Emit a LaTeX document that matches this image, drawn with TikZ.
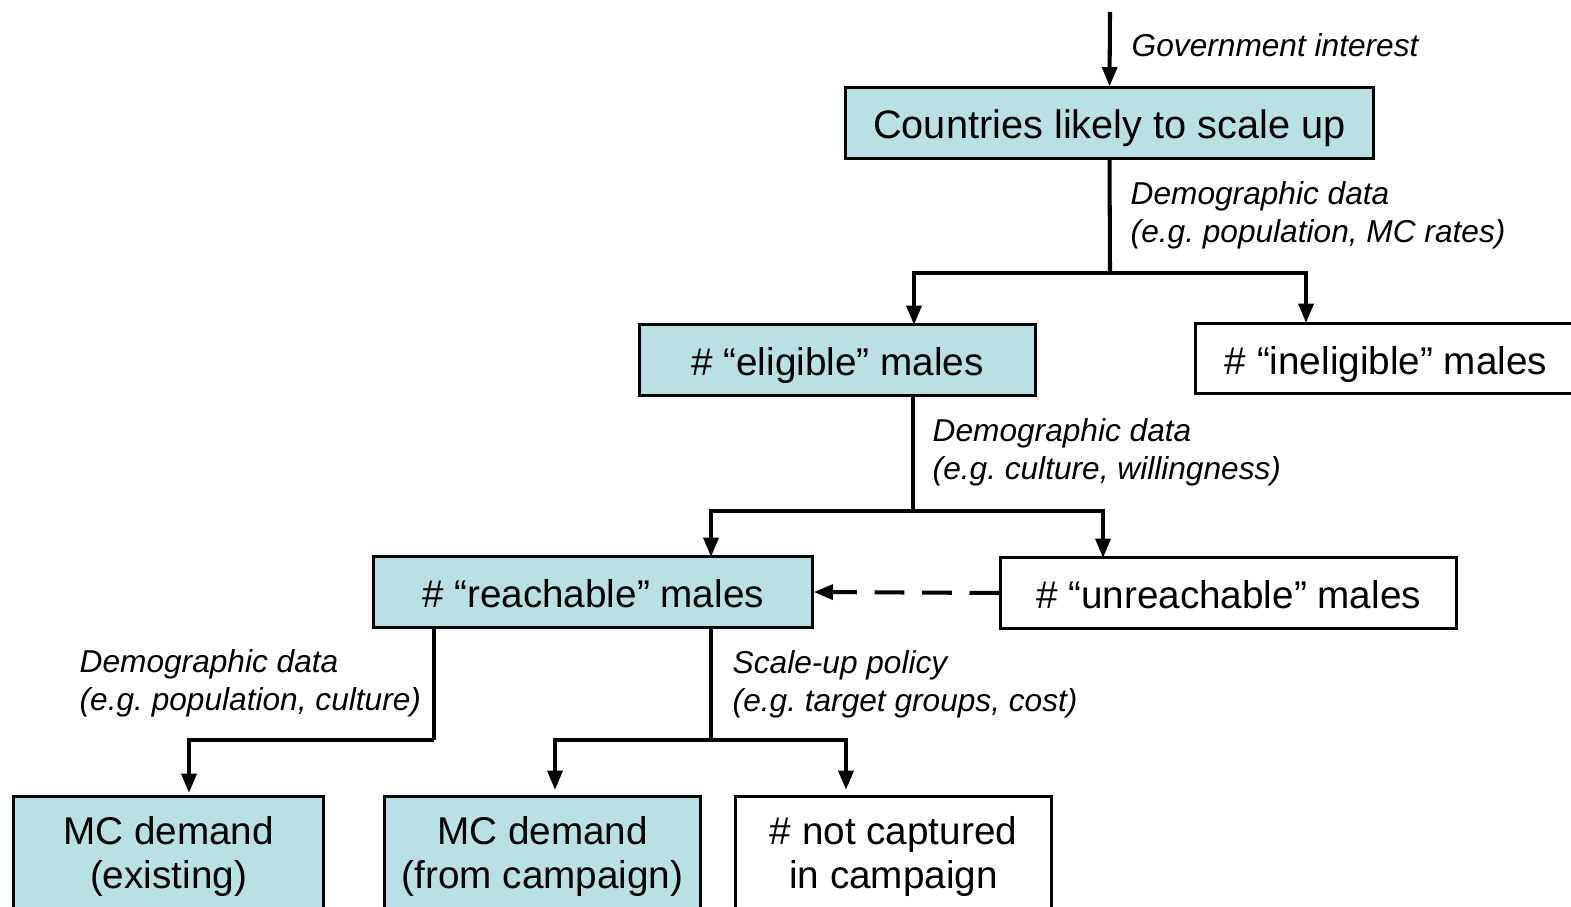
\documentclass[tikz,border=0pt]{standalone}
\usepackage{fontspec}
\setmainfont{Liberation Sans}
\usetikzlibrary{arrows.meta}
\definecolor{boxcyan}{RGB}{185,224,227}
\frenchspacing
\tikzset{
	box/.style={draw=black,line width=0.85pt,minimum height=0.70cm,inner sep=0pt,align=center,font=\fontsize{11}{12.5}\selectfont},
	oneline/.style={text height=10pt,text depth=1pt},
	shaded/.style={box,fill=boxcyan},
	plain/.style={box,fill=white},
	lab/.style={anchor=west,inner sep=0pt,align=left,font=\fontsize{9}{10.8}\selectfont\itshape},
	link/.style={line width=1.15pt},
	arr/.style={link,-{Triangle[length=5.5pt,width=4.2pt]}},
}
\begin{document}
\begin{tikzpicture}[x=0.01cm,y=-0.01cm]
		\useasboundingbox (0,0) rectangle (1571,907);
		\clip (0,0) rectangle (1571,907);
		% boxes
		\node[shaded,oneline,minimum width=5.27cm,font=\fontsize{11.3}{12.5}\selectfont] (cnt) at (1109.5,123) {Countries likely to scale up};
		\node[shaded,oneline,minimum width=3.95cm] (elig) at (837.5,360) {\# “eligible” males};
		\node[plain,oneline,minimum width=3.80cm] (inel) at (1386,358.5) {\# “ineligible” males};
		\node[shaded,oneline,minimum width=4.38cm] (reach) at (593,592) {\# “reachable” males};
		\node[plain,oneline,minimum width=4.55cm] (unr) at (1228.5,593) {\# “unreachable” males};
		\node[shaded,anchor=north,minimum width=3.09cm,minimum height=1.20cm] (exist) at (168.5,795) {MC demand\\(existing)};
		\node[shaded,anchor=north,minimum width=3.15cm,minimum height=1.20cm] (camp) at (542.5,795) {MC demand\\(from campaign)};
		\node[plain,anchor=north,minimum width=3.15cm,minimum height=1.20cm] (notc) at (893.5,795) {\# not captured\\in campaign};
		% labels
		\node[lab] (lgov) at (1131,45) {Government interest};
		\node[lab] (ldem1) at (1130,215) {Demographic data\\(e.g. population, MC rates)};
		\node[lab] (ldem2) at (932,452) {Demographic data\\(e.g. culture, willingness)};
		\node[lab] (ldem3) at (79,683) {Demographic data\\(e.g. population, culture)};
		\node[lab] (lpol) at (732,684) {Scale-up policy\\(e.g. target groups, cost)};
		% junctions
		\coordinate (top) at (1110,12);
		\coordinate (j1) at (1110,273);
		\coordinate (eligin) at (914,325);
		\coordinate (inelin) at (1306,323);
		\coordinate (j2) at (913,511);
		\coordinate (reachin) at (711,557);
		\coordinate (unrin) at (1103,558);
		\coordinate (j3) at (434,740);
		\coordinate (existin) at (189,793);
		\coordinate (j4) at (711,740);
		\coordinate (campin) at (555,790);
		\coordinate (notcin) at (846,790);
		% connectors
		\draw[arr] (top) -- (cnt.north);
		\draw[link] (cnt.south) -- (j1);
		\draw[arr] (j1) -| (eligin);
		\draw[arr] (j1) -| (inelin);
		\draw[link] (elig.south -| j2) -- (j2);
		\draw[arr] (j2) -| (reachin);
		\draw[arr] (j2) -| (unrin);
		\draw[arr,dash pattern=on 8.5pt off 5pt] (unr.west) -- (reach.east);
		\draw[link] (reach.south -| j3) -- (j3);
		\draw[arr] (j3) -| (existin);
		\draw[link] (reach.south -| j4) -- (j4);
		\draw[arr] (j4) -| (campin);
		\draw[arr] (j4) -| (notcin);
	\end{tikzpicture}
\end{document}
